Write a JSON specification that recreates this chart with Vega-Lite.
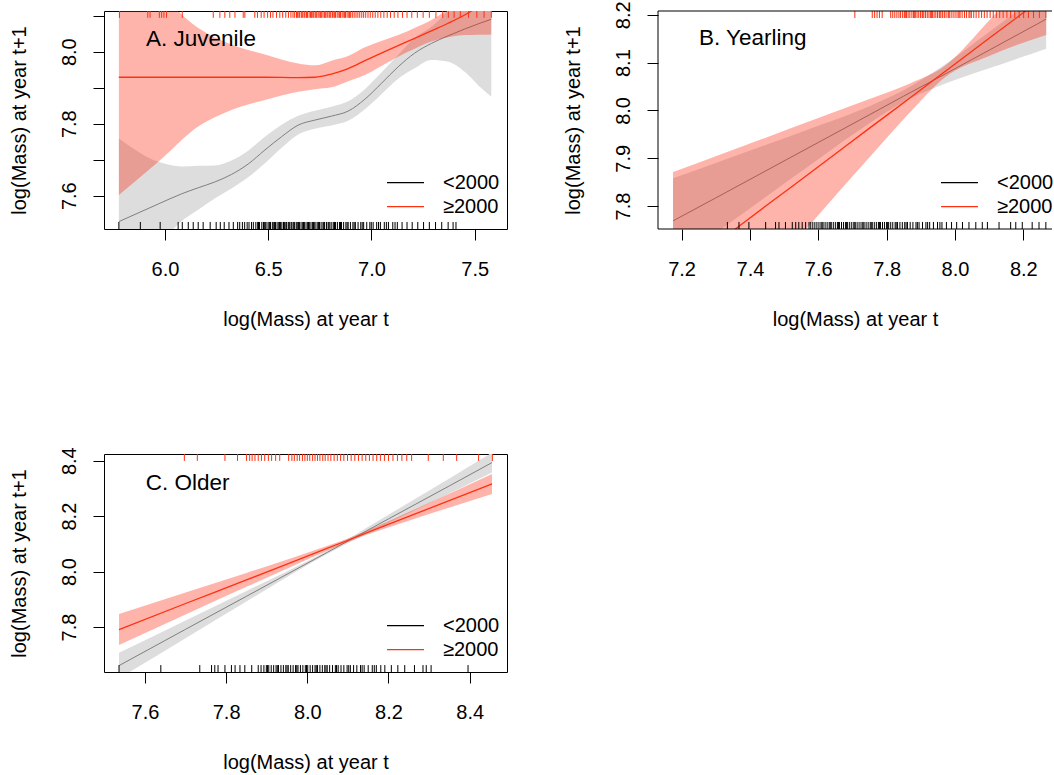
{
  "$schema": "https://vega.github.io/schema/vega-lite/v6.json",
  "usermeta": {"embedOptions": {"actions": false}},
  "background": "white",
  "padding": {"left": 8, "top": 0, "right": 0, "bottom": 0},
  "config": {
    "font": "Liberation Sans",
    "view": {"stroke": "black", "strokeWidth": 1},
    "axis": {"domain": false, "grid": false, "tickColor": "black", "tickSize": 11, "tickWidth": 1, "labelFontSize": 20, "titleFontSize": 20, "labelColor": "black", "titleColor": "black", "titleFontWeight": "normal", "labelFlush": false, "labelOverlap": false, "labelFont": "Liberation Sans", "titleFont": "Liberation Sans"},
    "axisX": {"labelPadding": 35, "labelBaseline": "alphabetic", "titleY": 96, "titleBaseline": "alphabetic"},
    "axisY": {"labelAngle": 270, "labelAlign": "center", "labelBaseline": "alphabetic", "labelPadding": 17.5, "titleX": -79, "titleAngle": 270, "titleBaseline": "alphabetic"},
    "legend": {"orient": "none", "legendX": 282, "legendY": 160, "title": null, "symbolType": "stroke", "symbolSize": 1369, "symbolStrokeWidth": 1.2, "clipHeight": 23.3, "rowPadding": 0, "padding": 0, "labelFontSize": 20, "labelOffset": 18, "labelColor": "black", "labelFont": "Liberation Sans"}
  },
  "datasets": {
    "A_gray": [
      {"x":5.777,"fit":7.528,"lo":7.297,"hi":7.759},
      {"x":5.968,"fit":7.577,"lo":7.460,"hi":7.694},
      {"x":6.080,"fit":7.605,"lo":7.529,"hi":7.681},
      {"x":6.161,"fit":7.622,"lo":7.561,"hi":7.683},
      {"x":6.241,"fit":7.638,"lo":7.592,"hi":7.684},
      {"x":6.322,"fit":7.659,"lo":7.620,"hi":7.698},
      {"x":6.403,"fit":7.688,"lo":7.651,"hi":7.725},
      {"x":6.484,"fit":7.727,"lo":7.690,"hi":7.764},
      {"x":6.565,"fit":7.764,"lo":7.733,"hi":7.797},
      {"x":6.645,"fit":7.796,"lo":7.770,"hi":7.822},
      {"x":6.726,"fit":7.810,"lo":7.786,"hi":7.836},
      {"x":6.806,"fit":7.821,"lo":7.795,"hi":7.847},
      {"x":6.887,"fit":7.835,"lo":7.808,"hi":7.862},
      {"x":6.968,"fit":7.868,"lo":7.840,"hi":7.896},
      {"x":7.048,"fit":7.912,"lo":7.882,"hi":7.942},
      {"x":7.129,"fit":7.958,"lo":7.925,"hi":7.991},
      {"x":7.209,"fit":7.996,"lo":7.954,"hi":8.038},
      {"x":7.290,"fit":8.023,"lo":7.977,"hi":8.069},
      {"x":7.371,"fit":8.044,"lo":7.972,"hi":8.116},
      {"x":7.451,"fit":8.063,"lo":7.944,"hi":8.182},
      {"x":7.520,"fit":8.078,"lo":7.905,"hi":8.251},
      {"x":7.580,"fit":8.090,"lo":7.875,"hi":8.305}
    ],
    "A_red": [
      {"x":5.777,"fit":7.929,"lo":7.602,"hi":8.256},
      {"x":5.968,"fit":7.929,"lo":7.694,"hi":8.164},
      {"x":6.161,"fit":7.929,"lo":7.792,"hi":8.066},
      {"x":6.322,"fit":7.929,"lo":7.838,"hi":8.020},
      {"x":6.484,"fit":7.929,"lo":7.866,"hi":7.992},
      {"x":6.645,"fit":7.928,"lo":7.889,"hi":7.967},
      {"x":6.726,"fit":7.929,"lo":7.896,"hi":7.962},
      {"x":6.806,"fit":7.938,"lo":7.901,"hi":7.975},
      {"x":6.887,"fit":7.953,"lo":7.918,"hi":7.988},
      {"x":6.968,"fit":7.975,"lo":7.935,"hi":8.012},
      {"x":7.048,"fit":7.996,"lo":7.960,"hi":8.030},
      {"x":7.129,"fit":8.017,"lo":7.986,"hi":8.046},
      {"x":7.209,"fit":8.037,"lo":8.008,"hi":8.066},
      {"x":7.290,"fit":8.058,"lo":8.028,"hi":8.088},
      {"x":7.371,"fit":8.079,"lo":8.040,"hi":8.118},
      {"x":7.451,"fit":8.102,"lo":8.046,"hi":8.158},
      {"x":7.520,"fit":8.126,"lo":8.047,"hi":8.205},
      {"x":7.580,"fit":8.150,"lo":8.048,"hi":8.252}
    ],
    "A_rug_bot": [
      {"x":5.777},{"x":5.881},{"x":5.977},{"x":6.064},{"x":6.084},{"x":6.113},{"x":6.137},{"x":6.161},{"x":6.185},{"x":6.219},
      {"x":6.248},{"x":6.268},{"x":6.287},{"x":6.310},{"x":6.331},{"x":6.352},{"x":6.362},{"x":6.375},{"x":6.386},{"x":6.398},
      {"x":6.407},{"x":6.419},{"x":6.428},{"x":6.440},{"x":6.449},{"x":6.458},{"x":6.469},{"x":6.477},{"x":6.486},{"x":6.494},
      {"x":6.503},{"x":6.511},{"x":6.520},{"x":6.527},{"x":6.535},{"x":6.543},{"x":6.551},{"x":6.559},{"x":6.566},{"x":6.574},
      {"x":6.582},{"x":6.589},{"x":6.597},{"x":6.605},{"x":6.612},{"x":6.620},{"x":6.628},{"x":6.636},{"x":6.643},{"x":6.651},
      {"x":6.659},{"x":6.667},{"x":6.675},{"x":6.683},{"x":6.691},{"x":6.699},{"x":6.707},{"x":6.715},{"x":6.723},{"x":6.731},
      {"x":6.740},{"x":6.748},{"x":6.756},{"x":6.765},{"x":6.773},{"x":6.782},{"x":6.790},{"x":6.799},{"x":6.808},{"x":6.817},
      {"x":6.826},{"x":6.835},{"x":6.845},{"x":6.855},{"x":6.865},{"x":6.876},{"x":6.887},{"x":6.898},{"x":6.910},{"x":6.922},
      {"x":6.935},{"x":6.948},{"x":6.962},{"x":6.977},{"x":6.992},{"x":7.008},{"x":7.025},{"x":7.043},{"x":7.062},{"x":7.082},
      {"x":7.103},{"x":7.125},{"x":7.148},{"x":7.172},{"x":7.197},{"x":7.224},{"x":7.252},{"x":7.280},{"x":7.310},{"x":7.340},
      {"x":7.371},{"x":7.395},{"x":7.409},
      {"x":6.453},{"x":6.481},{"x":6.507},{"x":6.531},{"x":6.555},{"x":6.578},{"x":6.601},{"x":6.624},{"x":6.647},{"x":6.671},
      {"x":6.695},{"x":6.719},{"x":6.744},{"x":6.769},{"x":6.794},{"x":6.821},{"x":6.850},{"x":6.882},{"x":6.916},{"x":6.955},
      {"x":6.999},{"x":7.034},{"x":7.072},{"x":7.114}
    ],
    "A_rug_top": [
      {"x":5.780},{"x":5.917},{"x":5.928},{"x":5.973},{"x":5.984},{"x":5.995},{"x":6.008},{"x":6.084},{"x":6.234},{"x":6.266},
      {"x":6.290},{"x":6.314},{"x":6.339},{"x":6.379},{"x":6.387},{"x":6.435},{"x":6.448},{"x":6.466},{"x":6.480},{"x":6.497},
      {"x":6.511},{"x":6.523},{"x":6.540},{"x":6.556},{"x":6.570},{"x":6.585},{"x":6.598},{"x":6.610},{"x":6.620},{"x":6.628},
      {"x":6.637},{"x":6.645},{"x":6.652},{"x":6.660},{"x":6.668},{"x":6.675},{"x":6.683},{"x":6.690},{"x":6.698},{"x":6.705},
      {"x":6.713},{"x":6.720},{"x":6.727},{"x":6.735},{"x":6.742},{"x":6.750},{"x":6.757},{"x":6.765},{"x":6.772},{"x":6.780},
      {"x":6.788},{"x":6.795},{"x":6.803},{"x":6.811},{"x":6.818},{"x":6.826},{"x":6.834},{"x":6.842},{"x":6.850},{"x":6.858},
      {"x":6.866},{"x":6.874},{"x":6.882},{"x":6.890},{"x":6.899},{"x":6.907},{"x":6.916},{"x":6.925},{"x":6.934},{"x":6.943},
      {"x":6.953},{"x":6.962},{"x":6.972},{"x":6.983},{"x":6.994},{"x":7.006},{"x":7.018},{"x":7.031},{"x":7.045},{"x":7.060},
      {"x":7.076},{"x":7.092},{"x":7.110},{"x":7.128},{"x":7.150},{"x":7.172},{"x":7.195},{"x":7.222},{"x":7.250},{"x":7.280},
      {"x":7.312},{"x":7.345},{"x":7.372},{"x":7.400},{"x":7.430},{"x":7.470},{"x":7.510},{"x":7.545},{"x":7.580},
      {"x":6.641},{"x":6.664},{"x":6.686},{"x":6.709},{"x":6.731},{"x":6.754},{"x":6.776},{"x":6.799},{"x":6.822},{"x":6.846},
      {"x":6.870},{"x":6.894}
    ],
    "B_gray": [
      {"x":7.175,"fit":7.769,"lo":7.680,"hi":7.858},
      {"x":7.300,"fit":7.817,"lo":7.744,"hi":7.890},
      {"x":7.450,"fit":7.875,"lo":7.821,"hi":7.929},
      {"x":7.600,"fit":7.933,"lo":7.898,"hi":7.968},
      {"x":7.750,"fit":7.991,"lo":7.973,"hi":8.009},
      {"x":7.850,"fit":8.030,"lo":8.018,"hi":8.042},
      {"x":7.950,"fit":8.068,"lo":8.050,"hi":8.086},
      {"x":8.100,"fit":8.126,"lo":8.088,"hi":8.164},
      {"x":8.267,"fit":8.191,"lo":8.129,"hi":8.253}
    ],
    "B_red": [
      {"x":7.175,"fit":7.654,"lo":7.437,"hi":7.871},
      {"x":7.300,"fit":7.721,"lo":7.538,"hi":7.904},
      {"x":7.450,"fit":7.802,"lo":7.660,"hi":7.944},
      {"x":7.600,"fit":7.882,"lo":7.781,"hi":7.984},
      {"x":7.750,"fit":7.963,"lo":7.902,"hi":8.024},
      {"x":7.870,"fit":8.027,"lo":7.997,"hi":8.057},
      {"x":7.970,"fit":8.081,"lo":8.069,"hi":8.093},
      {"x":8.100,"fit":8.151,"lo":8.114,"hi":8.188},
      {"x":8.267,"fit":8.240,"lo":8.158,"hi":8.322}
    ],
    "B_rug_bot": [
      {"x":7.334},{"x":7.368},{"x":7.397},{"x":7.446},{"x":7.475},{"x":7.485},{"x":7.504},{"x":7.524},{"x":7.534},{"x":7.543},
      {"x":7.553},{"x":7.563},{"x":7.573},{"x":7.578},{"x":7.584},{"x":7.590},{"x":7.596},{"x":7.602},{"x":7.608},{"x":7.614},
      {"x":7.620},{"x":7.626},{"x":7.632},{"x":7.638},{"x":7.644},{"x":7.650},{"x":7.656},{"x":7.662},{"x":7.668},{"x":7.674},
      {"x":7.680},{"x":7.686},{"x":7.692},{"x":7.698},{"x":7.704},{"x":7.710},{"x":7.716},{"x":7.722},{"x":7.728},{"x":7.734},
      {"x":7.740},{"x":7.746},{"x":7.752},{"x":7.758},{"x":7.764},{"x":7.770},{"x":7.776},{"x":7.782},{"x":7.788},{"x":7.794},
      {"x":7.800},{"x":7.806},{"x":7.812},{"x":7.818},{"x":7.825},{"x":7.832},{"x":7.839},{"x":7.846},{"x":7.853},{"x":7.861},
      {"x":7.869},{"x":7.877},{"x":7.886},{"x":7.895},{"x":7.905},{"x":7.915},{"x":7.926},{"x":7.937},{"x":7.949},{"x":7.962},
      {"x":7.975},{"x":7.990},{"x":8.005},{"x":8.022},{"x":8.041},{"x":8.061},{"x":8.080},{"x":8.095},{"x":8.129},{"x":8.163},
      {"x":8.178},{"x":8.197},{"x":8.226},{"x":8.246},{"x":8.266},
      {"x":7.611},{"x":7.635},{"x":7.659},{"x":7.683},{"x":7.707},{"x":7.731},{"x":7.755},{"x":7.779},{"x":7.803},{"x":7.828},
      {"x":7.857},{"x":7.890},{"x":7.920},{"x":7.956}
    ],
    "B_rug_top": [
      {"x":7.707},{"x":7.758},{"x":7.765},{"x":7.772},{"x":7.779},{"x":7.787},{"x":7.812},{"x":7.818},{"x":7.824},{"x":7.830},
      {"x":7.836},{"x":7.841},{"x":7.847},{"x":7.852},{"x":7.858},{"x":7.863},{"x":7.868},{"x":7.874},{"x":7.879},{"x":7.884},
      {"x":7.889},{"x":7.894},{"x":7.899},{"x":7.904},{"x":7.909},{"x":7.914},{"x":7.919},{"x":7.924},{"x":7.929},{"x":7.934},
      {"x":7.939},{"x":7.944},{"x":7.949},{"x":7.954},{"x":7.959},{"x":7.964},{"x":7.969},{"x":7.974},{"x":7.980},{"x":7.985},
      {"x":7.991},{"x":7.997},{"x":8.003},{"x":8.009},{"x":8.015},{"x":8.021},{"x":8.028},{"x":8.034},{"x":8.041},{"x":8.048},
      {"x":8.055},{"x":8.062},{"x":8.070},{"x":8.078},{"x":8.086},{"x":8.094},{"x":8.103},{"x":8.112},{"x":8.121},{"x":8.131},
      {"x":8.141},{"x":8.152},{"x":8.163},{"x":8.175},{"x":8.188},{"x":8.201},{"x":8.215},{"x":8.230},{"x":8.247},{"x":8.266},
      {"x":7.856},{"x":7.881},{"x":7.906},{"x":7.931},{"x":7.956},{"x":7.982},{"x":8.012},{"x":8.044}
    ],
    "C_gray": [
      {"x":7.536,"fit":7.661,"lo":7.615,"hi":7.707},
      {"x":7.700,"fit":7.792,"lo":7.760,"hi":7.824},
      {"x":7.850,"fit":7.911,"lo":7.892,"hi":7.930},
      {"x":8.050,"fit":8.070,"lo":8.064,"hi":8.076},
      {"x":8.200,"fit":8.190,"lo":8.175,"hi":8.205},
      {"x":8.350,"fit":8.309,"lo":8.282,"hi":8.336},
      {"x":8.455,"fit":8.393,"lo":8.357,"hi":8.429}
    ],
    "C_red": [
      {"x":7.536,"fit":7.791,"lo":7.735,"hi":7.847},
      {"x":7.700,"fit":7.885,"lo":7.845,"hi":7.925},
      {"x":7.850,"fit":7.970,"lo":7.945,"hi":7.995},
      {"x":8.000,"fit":8.056,"lo":8.044,"hi":8.068},
      {"x":8.100,"fit":8.113,"lo":8.107,"hi":8.119},
      {"x":8.250,"fit":8.199,"lo":8.183,"hi":8.215},
      {"x":8.455,"fit":8.316,"lo":8.280,"hi":8.352}
    ],
    "C_rug_bot": [
      {"x":7.536},{"x":7.639},{"x":7.735},{"x":7.764},{"x":7.772},{"x":7.780},{"x":7.797},{"x":7.813},{"x":7.822},{"x":7.834},
      {"x":7.846},{"x":7.863},{"x":7.879},{"x":7.886},{"x":7.893},{"x":7.899},{"x":7.905},{"x":7.911},{"x":7.917},{"x":7.923},
      {"x":7.929},{"x":7.935},{"x":7.941},{"x":7.947},{"x":7.953},{"x":7.959},{"x":7.965},{"x":7.971},{"x":7.977},{"x":7.983},
      {"x":7.989},{"x":7.995},{"x":8.001},{"x":8.007},{"x":8.013},{"x":8.019},{"x":8.025},{"x":8.031},{"x":8.037},{"x":8.043},
      {"x":8.049},{"x":8.055},{"x":8.062},{"x":8.069},{"x":8.076},{"x":8.083},{"x":8.090},{"x":8.098},{"x":8.106},{"x":8.114},
      {"x":8.122},{"x":8.131},{"x":8.140},{"x":8.150},{"x":8.160},{"x":8.170},{"x":8.181},{"x":8.191},{"x":8.207},{"x":8.223},
      {"x":8.240},{"x":8.264},{"x":8.285},{"x":8.293},{"x":8.305},{"x":8.396},
      {"x":7.902},{"x":7.926},{"x":7.950},{"x":7.974},{"x":7.998},{"x":8.022},{"x":8.046},{"x":8.072},{"x":8.102},{"x":8.135},{"x":8.165}
    ],
    "C_rug_top": [
      {"x":7.697},{"x":7.729},{"x":7.797},{"x":7.828},{"x":7.850},{"x":7.858},{"x":7.864},{"x":7.871},{"x":7.879},{"x":7.887},
      {"x":7.895},{"x":7.904},{"x":7.912},{"x":7.922},{"x":7.932},{"x":7.954},{"x":7.962},{"x":7.968},{"x":7.975},{"x":7.981},
      {"x":7.988},{"x":7.994},{"x":8.000},{"x":8.006},{"x":8.013},{"x":8.019},{"x":8.025},{"x":8.031},{"x":8.038},{"x":8.044},
      {"x":8.051},{"x":8.058},{"x":8.066},{"x":8.074},{"x":8.082},{"x":8.090},{"x":8.099},{"x":8.108},{"x":8.117},{"x":8.126},
      {"x":8.135},{"x":8.144},{"x":8.153},{"x":8.162},{"x":8.171},{"x":8.180},{"x":8.190},{"x":8.200},{"x":8.211},{"x":8.222},
      {"x":8.233},{"x":8.245},{"x":8.257},{"x":8.298},{"x":8.335},{"x":8.368},{"x":8.422},{"x":8.456}
    ]
  },
  "columns": 2,
  "spacing": {"row": 225, "column": 151},
  "bounds": "flush",
  "resolve": {"scale": {"x": "independent", "y": "independent", "color": "independent"}, "legend": {"color": "independent"}},
  "concat": [
    {
      "width": 403, "height": 218,
      "layer": [
        {"data": {"name": "A_gray"}, "mark": {"type": "area", "clip": true, "color": "#DDDDDD", "interpolate": "monotone"},
         "encoding": {
           "x": {"field": "x", "type": "quantitative", "scale": {"domain": [5.705, 7.656], "nice": false, "zero": false}, "axis": {"values": [6.0, 6.5, 7.0, 7.5], "format": ".1f", "title": "log(Mass) at year t"}},
           "y": {"field": "lo", "type": "quantitative", "scale": {"domain": [7.5075, 8.113], "nice": false, "zero": false}, "axis": {"values": [7.6, 7.7, 7.8, 7.9, 8.0, 8.1], "format": ".1f", "labelExpr": "round(datum.value * 10) % 2 == 0 ? datum.label : ''", "title": "log(Mass) at year t+1"}},
           "y2": {"field": "hi"}}},
        {"data": {"name": "A_gray"}, "mark": {"type": "line", "clip": true, "color": "#7F7F7F", "strokeWidth": 1, "interpolate": "monotone"},
         "encoding": {"x": {"field": "x", "type": "quantitative"}, "y": {"field": "fit", "type": "quantitative"}}},
        {"data": {"name": "A_red"}, "mark": {"type": "area", "clip": true, "color": "#FF1A00", "opacity": 0.33, "interpolate": "monotone"},
         "encoding": {"x": {"field": "x", "type": "quantitative"}, "y": {"field": "lo", "type": "quantitative"}, "y2": {"field": "hi"}}},
        {"data": {"name": "A_red"}, "mark": {"type": "line", "clip": true, "color": "#FF3010", "strokeWidth": 1.3, "interpolate": "monotone"},
         "encoding": {"x": {"field": "x", "type": "quantitative"}, "y": {"field": "fit", "type": "quantitative"}}},
        {"data": {"name": "A_rug_bot"}, "mark": {"type": "rule", "strokeWidth": 1},
         "encoding": {"x": {"field": "x", "type": "quantitative"}, "y": {"datum": 7.5075}, "y2": {"datum": 7.527},
           "color": {"datum": "<2000", "type": "nominal", "scale": {"domain": ["<2000", "≥2000"], "range": ["black", "#FF3010"]}}}},
        {"data": {"name": "A_rug_top"}, "mark": {"type": "rule", "strokeWidth": 1},
         "encoding": {"x": {"field": "x", "type": "quantitative"}, "y": {"datum": 8.113}, "y2": {"datum": 8.094},
           "color": {"datum": "≥2000", "type": "nominal"}}},
        {"data": {"values": [{"label": "A. Juvenile"}]}, "mark": {"type": "text", "align": "left", "baseline": "alphabetic", "fontSize": 22.5, "color": "black"},
         "encoding": {"x": {"datum": 5.908}, "y": {"datum": 8.016}, "text": {"field": "label"}}}
      ]
    },
    {
      "width": 394, "height": 218,
      "view": {"stroke": null},
      "layer": [
        {"data": {"name": "B_gray"}, "mark": {"type": "area", "clip": true, "color": "#DDDDDD", "interpolate": "monotone"},
         "encoding": {
           "x": {"field": "x", "type": "quantitative", "scale": {"domain": [7.131, 8.284], "nice": false, "zero": false}, "axis": {"values": [7.2, 7.4, 7.6, 7.8, 8.0, 8.2], "format": ".1f", "title": "log(Mass) at year t"}},
           "y": {"field": "lo", "type": "quantitative", "scale": {"domain": [7.752, 8.208], "nice": false, "zero": false}, "axis": {"values": [7.8, 7.9, 8.0, 8.1, 8.2], "format": ".1f", "title": "log(Mass) at year t+1"}},
           "y2": {"field": "hi"}}},
        {"data": {"name": "B_gray"}, "mark": {"type": "line", "clip": true, "color": "#7F7F7F", "strokeWidth": 1, "interpolate": "monotone"},
         "encoding": {"x": {"field": "x", "type": "quantitative"}, "y": {"field": "fit", "type": "quantitative"}}},
        {"data": {"name": "B_red"}, "mark": {"type": "area", "clip": true, "color": "#FF1A00", "opacity": 0.33, "interpolate": "monotone"},
         "encoding": {"x": {"field": "x", "type": "quantitative"}, "y": {"field": "lo", "type": "quantitative"}, "y2": {"field": "hi"}}},
        {"data": {"name": "B_red"}, "mark": {"type": "line", "clip": true, "color": "#FF3010", "strokeWidth": 1.3, "interpolate": "monotone"},
         "encoding": {"x": {"field": "x", "type": "quantitative"}, "y": {"field": "fit", "type": "quantitative"}}},
        {"data": {"name": "B_rug_bot"}, "mark": {"type": "rule", "strokeWidth": 1},
         "encoding": {"x": {"field": "x", "type": "quantitative"}, "y": {"datum": 7.752}, "y2": {"datum": 7.7667},
           "color": {"datum": "<2000", "type": "nominal", "scale": {"domain": ["<2000", "≥2000"], "range": ["black", "#FF3010"]}}}},
        {"data": {"name": "B_rug_top"}, "mark": {"type": "rule", "strokeWidth": 1},
         "encoding": {"x": {"field": "x", "type": "quantitative"}, "y": {"datum": 8.208}, "y2": {"datum": 8.1933},
           "color": {"datum": "≥2000", "type": "nominal"}}},
        {"data": {"values": [{}]}, "mark": {"type": "rule", "color": "black", "strokeWidth": 1},
         "encoding": {"x": {"datum": 7.131}, "y": {"datum": 7.752}, "y2": {"datum": 8.208}}},
        {"data": {"values": [{}]}, "mark": {"type": "rule", "color": "black", "strokeWidth": 1},
         "encoding": {"x": {"datum": 7.131}, "x2": {"datum": 8.284}, "y": {"datum": 8.208}}},
        {"data": {"values": [{}]}, "mark": {"type": "rule", "color": "black", "strokeWidth": 1},
         "encoding": {"x": {"datum": 7.131}, "x2": {"datum": 8.284}, "y": {"datum": 7.752}}},
        {"data": {"values": [{"label": "B. Yearling"}]}, "mark": {"type": "text", "align": "left", "baseline": "alphabetic", "fontSize": 22.5, "color": "black"},
         "encoding": {"x": {"datum": 7.251}, "y": {"datum": 8.137}, "text": {"field": "label"}}}
      ]
    },
    {
      "width": 403, "height": 218,
      "layer": [
        {"data": {"name": "C_gray"}, "mark": {"type": "area", "clip": true, "color": "#DDDDDD", "interpolate": "monotone"},
         "encoding": {
           "x": {"field": "x", "type": "quantitative", "scale": {"domain": [7.499, 8.492], "nice": false, "zero": false}, "axis": {"values": [7.6, 7.8, 8.0, 8.2, 8.4], "format": ".1f", "title": "log(Mass) at year t"}},
           "y": {"field": "lo", "type": "quantitative", "scale": {"domain": [7.638, 8.424], "nice": false, "zero": false}, "axis": {"values": [7.8, 8.0, 8.2, 8.4], "format": ".1f", "title": "log(Mass) at year t+1"}},
           "y2": {"field": "hi"}}},
        {"data": {"name": "C_gray"}, "mark": {"type": "line", "clip": true, "color": "#7F7F7F", "strokeWidth": 1, "interpolate": "monotone"},
         "encoding": {"x": {"field": "x", "type": "quantitative"}, "y": {"field": "fit", "type": "quantitative"}}},
        {"data": {"name": "C_red"}, "mark": {"type": "area", "clip": true, "color": "#FF1A00", "opacity": 0.33, "interpolate": "monotone"},
         "encoding": {"x": {"field": "x", "type": "quantitative"}, "y": {"field": "lo", "type": "quantitative"}, "y2": {"field": "hi"}}},
        {"data": {"name": "C_red"}, "mark": {"type": "line", "clip": true, "color": "#FF3010", "strokeWidth": 1.3, "interpolate": "monotone"},
         "encoding": {"x": {"field": "x", "type": "quantitative"}, "y": {"field": "fit", "type": "quantitative"}}},
        {"data": {"name": "C_rug_bot"}, "mark": {"type": "rule", "strokeWidth": 1},
         "encoding": {"x": {"field": "x", "type": "quantitative"}, "y": {"datum": 7.638}, "y2": {"datum": 7.663},
           "color": {"datum": "<2000", "type": "nominal", "scale": {"domain": ["<2000", "≥2000"], "range": ["black", "#FF3010"]}}}},
        {"data": {"name": "C_rug_top"}, "mark": {"type": "rule", "strokeWidth": 1},
         "encoding": {"x": {"field": "x", "type": "quantitative"}, "y": {"datum": 8.424}, "y2": {"datum": 8.399},
           "color": {"datum": "≥2000", "type": "nominal"}}},
        {"data": {"values": [{"label": "C. Older"}]}, "mark": {"type": "text", "align": "left", "baseline": "alphabetic", "fontSize": 22.5, "color": "black"},
         "encoding": {"x": {"datum": 7.602}, "y": {"datum": 8.294}, "text": {"field": "label"}}}
      ]
    }
  ]
}
